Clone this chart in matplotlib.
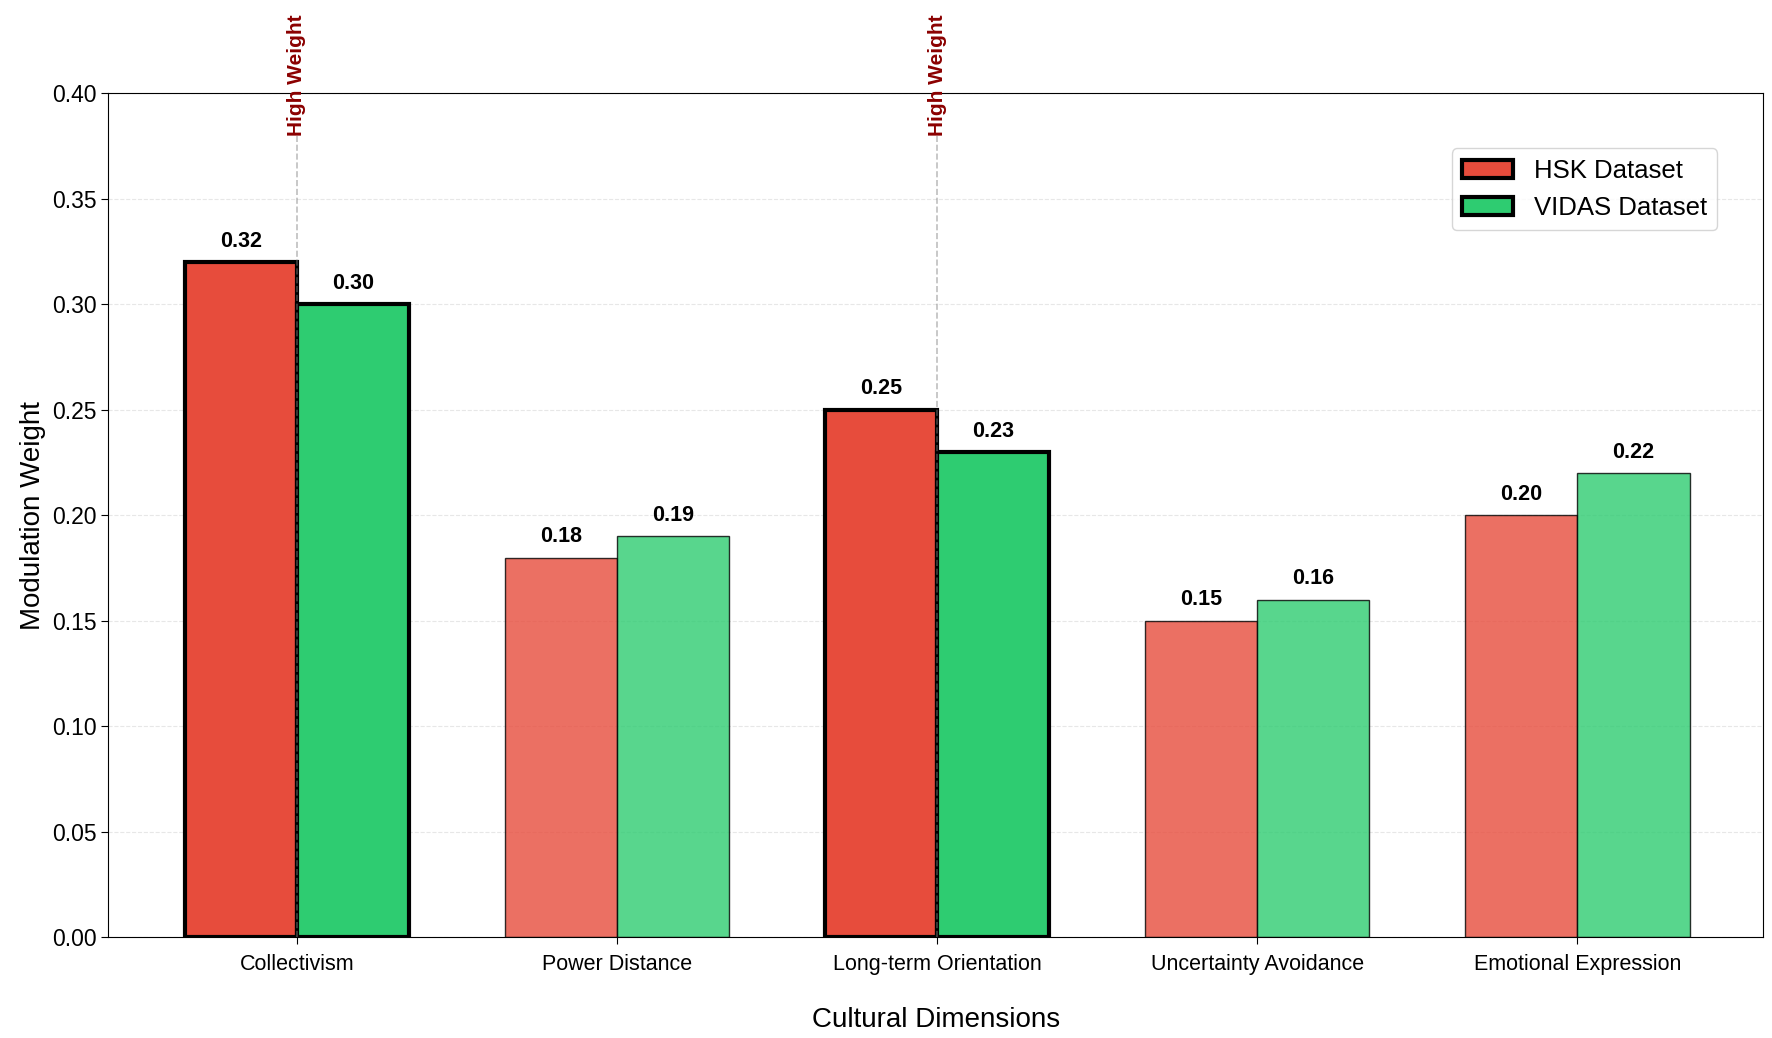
import numpy as np
import matplotlib.pyplot as plt

plt.rcParams['font.family'] = ['Liberation Sans', 'DejaVu Sans']

# Data
dimensions = ['Collectivism', 'Power Distance', 'Long-term Orientation',
              'Uncertainty Avoidance', 'Emotional Expression']
hsk_weights = [0.32, 0.18, 0.25, 0.15, 0.20]
vidas_weights = [0.30, 0.19, 0.23, 0.16, 0.22]
high_weight = [True, False, True, False, False]

HSK_COLOR = '#e74c3c'
VIDAS_COLOR = '#2ecc71'
width = 0.35

fig, ax = plt.subplots(figsize=(17.72, 10.38), dpi=100)
x = np.arange(len(dimensions))

for i in range(len(dimensions)):
    if high_weight[i]:
        alpha, lw = 1.0, 3
    else:
        alpha, lw = 0.8, 1
    ax.bar(x[i] - width / 2, hsk_weights[i], width, color=HSK_COLOR, alpha=alpha,
           edgecolor='black', linewidth=lw,
           label='HSK Dataset' if i == 0 else None)
    ax.bar(x[i] + width / 2, vidas_weights[i], width, color=VIDAS_COLOR, alpha=alpha,
           edgecolor='black', linewidth=lw,
           label='VIDAS Dataset' if i == 0 else None)
    ax.text(x[i] - width / 2, hsk_weights[i] + 0.005, f'{hsk_weights[i]:.2f}',
            ha='center', va='bottom', fontsize=15.5, fontweight='bold')
    ax.text(x[i] + width / 2, vidas_weights[i] + 0.005, f'{vidas_weights[i]:.2f}',
            ha='center', va='bottom', fontsize=15.5, fontweight='bold')
    if high_weight[i]:
        ax.axvline(x[i], ymax=0.95, color='gray', linestyle='--', alpha=0.5, linewidth=1.2)
        ax.text(x[i], 0.38, 'High Weight', rotation=90, ha='center', va='bottom',
                color='darkred', fontsize=15, fontweight='bold', clip_on=False)

ax.set_xticks(x)
ax.set_xticklabels(dimensions, fontsize=15.5)
ax.tick_params(axis='x', length=5, pad=7)
ax.tick_params(axis='y', labelsize=16.5, length=5)
ax.set_xlim(-0.59, 4.58)
ax.set_ylim(0, 0.40)
ax.set_yticks(np.arange(0, 0.41, 0.05))
ax.yaxis.grid(True, linestyle='--', alpha=0.3)
ax.set_axisbelow(True)
ax.set_xlabel('Cultural Dimensions', fontsize=20, labelpad=23)
ax.set_ylabel('Modulation Weight', fontsize=20)
ax.legend(loc='upper right', bbox_to_anchor=(0.98, 0.95), fontsize=18.5)

plt.subplots_adjust(left=0.061, right=0.995, top=0.91, bottom=0.097)
plt.savefig('out.png', dpi=100)
